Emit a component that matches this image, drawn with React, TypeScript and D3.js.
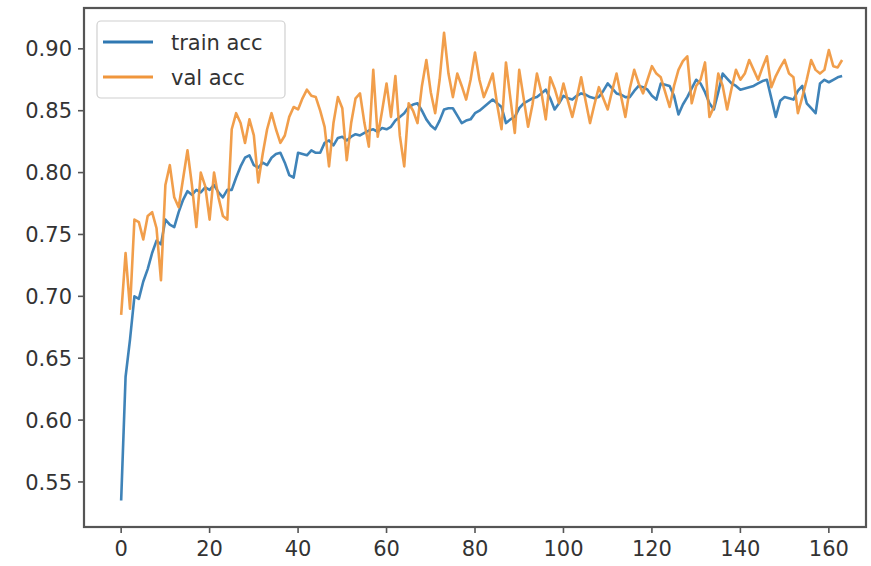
import React from 'react';
import * as d3 from 'd3';

// accuracy per epoch
const trainAcc = [
  0.535, 0.635, 0.665, 0.700, 0.698, 0.712, 0.722, 0.735, 0.745, 0.742,
  0.762, 0.758, 0.756, 0.768, 0.778, 0.785, 0.782, 0.786, 0.784, 0.788,
  0.786, 0.790, 0.784, 0.780, 0.786, 0.786, 0.796, 0.805, 0.812, 0.814,
  0.806, 0.804, 0.808, 0.806, 0.812, 0.815, 0.816, 0.808, 0.798, 0.796,
  0.816, 0.815, 0.814, 0.818, 0.816, 0.816, 0.824, 0.826, 0.822, 0.828,
  0.829, 0.826, 0.829, 0.831, 0.830, 0.832, 0.834, 0.835, 0.833, 0.836,
  0.835, 0.837, 0.842, 0.845, 0.848, 0.853, 0.855, 0.856, 0.850, 0.843,
  0.838, 0.835, 0.842, 0.851, 0.852, 0.852, 0.846, 0.840, 0.842, 0.843,
  0.848, 0.850, 0.853, 0.856, 0.859, 0.856, 0.853, 0.840, 0.843, 0.845,
  0.852, 0.856, 0.858, 0.860, 0.861, 0.864, 0.867, 0.860, 0.851, 0.856,
  0.862, 0.860, 0.859, 0.862, 0.864, 0.863, 0.861, 0.860, 0.861, 0.866,
  0.872, 0.868, 0.864, 0.863, 0.861, 0.861, 0.866, 0.870, 0.869, 0.867,
  0.862, 0.859, 0.872, 0.871, 0.870, 0.862, 0.847, 0.855, 0.861, 0.868,
  0.875, 0.872, 0.865, 0.856, 0.851, 0.865, 0.880, 0.876, 0.872, 0.870,
  0.867, 0.868, 0.869, 0.870, 0.872, 0.874, 0.875, 0.860, 0.845, 0.858,
  0.861, 0.860, 0.859, 0.866, 0.870, 0.856, 0.852, 0.848, 0.872, 0.875,
  0.873, 0.875, 0.877, 0.878,
];

const valAcc = [
  0.685, 0.735, 0.690, 0.762, 0.760, 0.746, 0.765, 0.768, 0.755, 0.713,
  0.790, 0.806, 0.780, 0.772, 0.795, 0.818, 0.790, 0.756, 0.800, 0.789,
  0.762, 0.800, 0.780, 0.765, 0.762, 0.835, 0.848, 0.840, 0.824, 0.843,
  0.830, 0.792, 0.815, 0.835, 0.848, 0.835, 0.824, 0.830, 0.845, 0.853,
  0.851, 0.860, 0.867, 0.862, 0.861, 0.850, 0.837, 0.805, 0.840, 0.861,
  0.852, 0.810, 0.840, 0.860, 0.864, 0.840, 0.821, 0.883, 0.829, 0.850,
  0.872, 0.845, 0.878, 0.830, 0.805, 0.856, 0.850, 0.840, 0.870, 0.891,
  0.865, 0.848, 0.875, 0.913, 0.880, 0.861, 0.880, 0.870, 0.859, 0.875,
  0.897, 0.875, 0.861, 0.870, 0.880, 0.855, 0.835, 0.889, 0.860, 0.832,
  0.883, 0.860, 0.837, 0.855, 0.880, 0.865, 0.843, 0.877, 0.868, 0.856,
  0.872, 0.858, 0.845, 0.860, 0.877, 0.858, 0.840, 0.855, 0.869, 0.860,
  0.851, 0.866, 0.880, 0.862, 0.845, 0.868, 0.883, 0.872, 0.864, 0.875,
  0.886, 0.880, 0.877, 0.865, 0.853, 0.870, 0.883, 0.890, 0.894, 0.856,
  0.870, 0.875, 0.889, 0.845, 0.853, 0.880, 0.870, 0.851, 0.868, 0.883,
  0.875, 0.880, 0.891, 0.883, 0.875, 0.885, 0.894, 0.869, 0.878, 0.885,
  0.891, 0.880, 0.877, 0.848, 0.861, 0.875, 0.891, 0.883, 0.880, 0.883,
  0.899, 0.886, 0.885, 0.891,
];

const xTicks = [0, 20, 40, 60, 80, 100, 120, 140, 160];
const yTicks = [0.55, 0.6, 0.65, 0.7, 0.75, 0.8, 0.85, 0.9];

const seriesNames = ['train acc', 'val acc'];
const seriesColors = ['#2f78b2', '#f0963c'];

const W = 871;
const H = 566;
const left = 84, right = 866, top = 8, bottom = 527;

const App: React.FC = () => {
  const x = d3.scaleLinear().domain([-8.4, 168.4]).range([left, right]);
  const y = d3.scaleLinear().domain([0.5136, 0.933]).range([bottom, top]);

  const line = d3.line<number>()
    .x((_, i) => x(i))
    .y(d => y(d));

  const font = '"DejaVu Sans", sans-serif';
  const tickColor = '#333';

  return (
    <svg width={W} height={H} style={{ position: 'absolute', left: 0, top: 0, background: '#fff' }}>
      {[trainAcc, valAcc].map((s, i) => (
        <path key={i} d={line(s) || ''} fill="none" stroke={seriesColors[i]}
          strokeWidth={2.6} strokeLinejoin="round" opacity={0.92} />
      ))}

      {/* frame */}
      <rect x={left} y={top} width={right - left} height={bottom - top}
        fill="none" stroke="#555" strokeWidth={2.2} />

      {yTicks.map(t => (
        <g key={t}>
          <line x1={left - 6} x2={left} y1={y(t)} y2={y(t)} stroke="#555" strokeWidth={1.6} />
          <text x={left - 12} y={y(t)} dy="0.36em" textAnchor="end"
            fontFamily={font} fontSize={21} fill={tickColor}>{t.toFixed(2)}</text>
        </g>
      ))}

      {xTicks.map(t => (
        <g key={t}>
          <line x1={x(t)} x2={x(t)} y1={bottom} y2={bottom + 6} stroke="#555" strokeWidth={1.6} />
          <text x={x(t)} y={bottom + 29} textAnchor="middle"
            fontFamily={font} fontSize={21} fill={tickColor}>{t}</text>
        </g>
      ))}

      {/* legend */}
      <rect x={97} y={21} width={188} height={77} rx={4} fill="#fff" fillOpacity={0.85}
        stroke="#d0d0d0" strokeWidth={1.2} />
      {seriesNames.map((n, i) => (
        <g key={n}>
          <line x1={103} x2={153} y1={42 + i * 35} y2={42 + i * 35}
            stroke={seriesColors[i]} strokeWidth={3} />
          <text x={171} y={42 + i * 35} dy="0.36em" fontFamily={font} fontSize={21}
            fill={tickColor}>{n}</text>
        </g>
      ))}
    </svg>
  );
};

export default App;
